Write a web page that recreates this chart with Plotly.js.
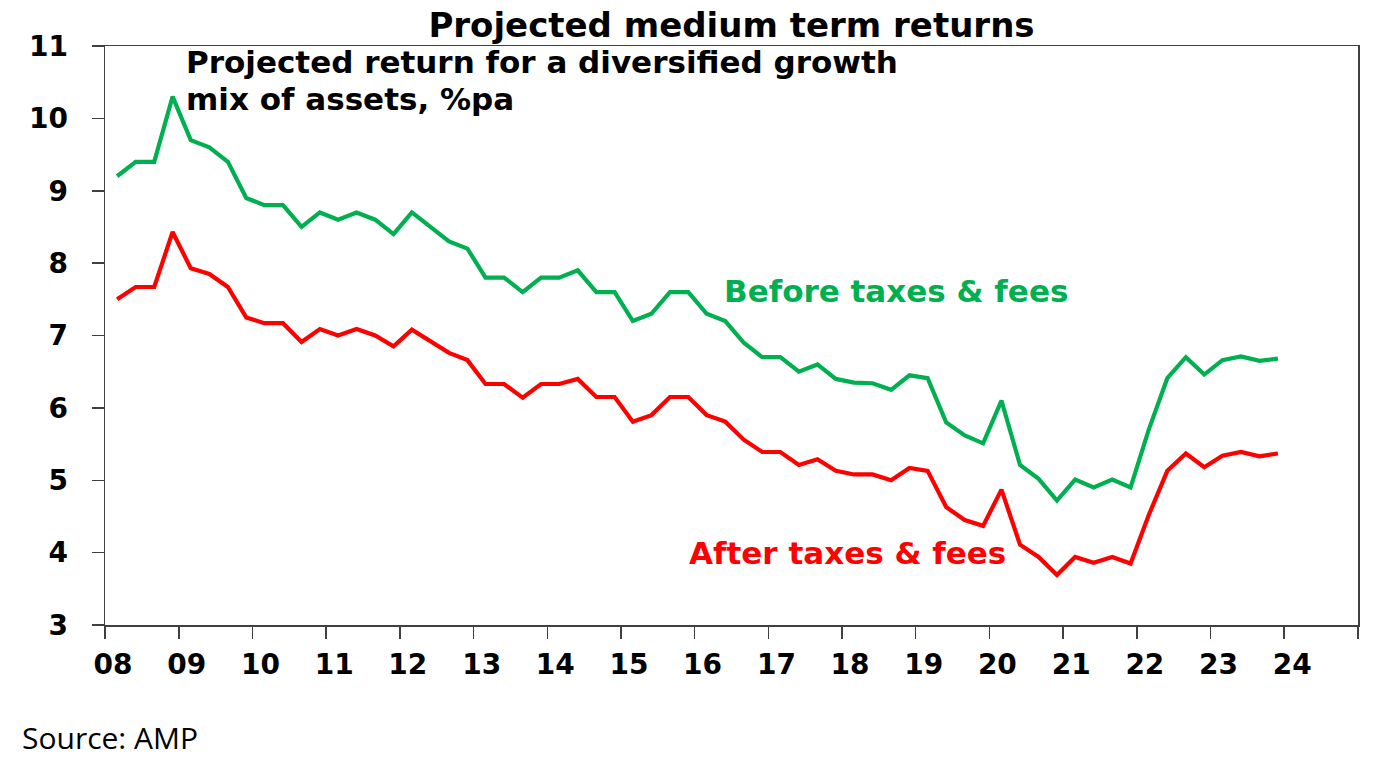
<!DOCTYPE html>
<html>
<head>
<meta charset="utf-8">
<script src="https://cdn.plot.ly/plotly-3.0.1.min.js"></script>
<style>html,body{margin:0;padding:0;background:#fff;}#chart{width:1376px;height:772px;}</style>
</head>
<body>
<div id="chart"></div>
<script>
// Quarterly observations, Mar 2008 .. Dec 2023
const quarters = [];
for (let y = 2008; y <= 2023; y++) { for (const m of ['03','06','09','12']) quarters.push(y + '-' + m + '-01'); }

const beforeTaxes = [
  9.2, 9.4, 9.4, 10.3, 9.7, 9.6, 9.4, 8.9,
  8.8, 8.8, 8.5, 8.7, 8.6, 8.7, 8.6, 8.4,
  8.7, 8.5, 8.3, 8.2, 7.8, 7.8, 7.6, 7.8,
  7.8, 7.9, 7.6, 7.6, 7.2, 7.3, 7.6, 7.6,
  7.3, 7.2, 6.9, 6.7, 6.7, 6.5, 6.6, 6.4,
  6.35, 6.34, 6.25, 6.45, 6.41, 5.8, 5.62, 5.51,
  6.1, 5.21, 5.02, 4.72, 5.01, 4.9, 5.01, 4.9,
  5.7, 6.41, 6.7, 6.46, 6.66, 6.71, 6.65, 6.68
];
const afterTaxes = [
  7.5, 7.67, 7.67, 8.43, 7.93, 7.85, 7.67, 7.25,
  7.17, 7.17, 6.91, 7.09, 7.0, 7.09, 7.0, 6.85,
  7.08, 6.92, 6.76, 6.66, 6.33, 6.33, 6.14, 6.33,
  6.33, 6.4, 6.15, 6.15, 5.81, 5.9, 6.15, 6.15,
  5.9, 5.81, 5.56, 5.39, 5.39, 5.21, 5.29, 5.13,
  5.08, 5.08, 5.0, 5.17, 5.13, 4.63, 4.45, 4.37,
  4.87, 4.11, 3.94, 3.69, 3.94, 3.86, 3.94, 3.85,
  4.52, 5.13, 5.37, 5.18, 5.34, 5.39, 5.33, 5.37
];

const yearTickVals = [];
const yearTickText = [];
for (let y = 2008; y <= 2025; y++) {
  yearTickVals.push(y + '-01-01');
  yearTickText.push(y <= 2024 ? '<b>' + String(y % 100).padStart(2, '0') + '</b>' : '');
}
const yTickVals = [3, 4, 5, 6, 7, 8, 9, 10, 11];
const yTickText = yTickVals.map(v => '<b>' + v + '</b>');

const GREEN = '#00B050', RED = '#FF0000';
const boldFont = 'DejaVu Sans, Liberation Sans, Arial, sans-serif';

// pixel -> paper helpers (plot area 105..1358 x, 46..625 y)
const L = 105, R = 1358, T = 46, B = 625;
const px = x => (x - L) / (R - L);
const py = y => (B - y) / (B - T);

const traces = [
  { x: quarters, y: beforeTaxes, type: 'scatter', mode: 'lines', name: 'Before taxes & fees',
    line: { color: GREEN, width: 4.2 } },
  { x: quarters, y: afterTaxes, type: 'scatter', mode: 'lines', name: 'After taxes & fees',
    line: { color: RED, width: 4.2 } }
];

const layout = {
  width: 1376, height: 772,
  margin: { l: L, r: 1376 - R, t: T, b: 772 - B, pad: 0 },
  paper_bgcolor: '#fff', plot_bgcolor: '#fff',
  showlegend: false,
  title: { text: '<b>Projected medium term returns</b>', x: (L + R) / 2 / 1376, xanchor: 'center',
           y: 1 - 25 / 772, yanchor: 'middle', font: { family: boldFont, size: 34, color: '#000' } },
  xaxis: {
    type: 'date', range: ['2008-01-01', '2025-01-01'],
    tickmode: 'array', tickvals: yearTickVals, ticktext: yearTickText,
    ticks: 'outside', ticklen: 12, tickwidth: 1.5, tickcolor: '#404040',
    showline: true, linecolor: '#404040', linewidth: 1.5, mirror: true,
    showgrid: false, zeroline: false,
    ticklabelshift: 8, ticklabelstandoff: 2,
    tickfont: { family: boldFont, size: 28, color: '#000' }
  },
  yaxis: {
    range: [3, 11], tickmode: 'array', tickvals: yTickVals, ticktext: yTickText,
    ticks: 'outside', ticklen: 12, tickwidth: 1.5, tickcolor: '#404040',
    showline: true, linecolor: '#404040', linewidth: 1.5, mirror: true,
    showgrid: false, zeroline: false,
    ticklabelstandoff: 18,
    tickfont: { family: boldFont, size: 28, color: '#000' }
  },
  annotations: [
    { text: '<b>Projected return for a diversified growth</b>', xref: 'paper', yref: 'paper',
      x: px(185), y: py(80), xanchor: 'left', yanchor: 'bottom', align: 'left', showarrow: false,
      height: 34, borderpad: 0,
      font: { family: boldFont, size: 31, color: '#000' } },
    { text: '<b>mix of assets, %pa</b>', xref: 'paper', yref: 'paper',
      x: px(185), y: py(81), xanchor: 'left', yanchor: 'top', align: 'left', showarrow: false,
      height: 34, borderpad: 0,
      font: { family: boldFont, size: 31, color: '#000' } },
    { text: '<b>Before taxes & fees</b>', xref: 'paper', yref: 'paper',
      x: px(722), y: py(291), xanchor: 'left', yanchor: 'middle', showarrow: false,
      font: { family: boldFont, size: 31, color: GREEN } },
    { text: '<b>After taxes & fees</b>', xref: 'paper', yref: 'paper',
      x: px(687), y: py(553), xanchor: 'left', yanchor: 'middle', showarrow: false,
      font: { family: boldFont, size: 31, color: RED } },
    { text: 'Source: AMP', xref: 'paper', yref: 'paper',
      x: px(20), y: py(737), xanchor: 'left', yanchor: 'middle', showarrow: false,
      font: { family: 'Open Sans, sans-serif', size: 30, color: '#000' } }
  ]
};

Plotly.newPlot('chart', traces, layout, { staticPlot: true, displayModeBar: false });
</script>
</body>
</html>
